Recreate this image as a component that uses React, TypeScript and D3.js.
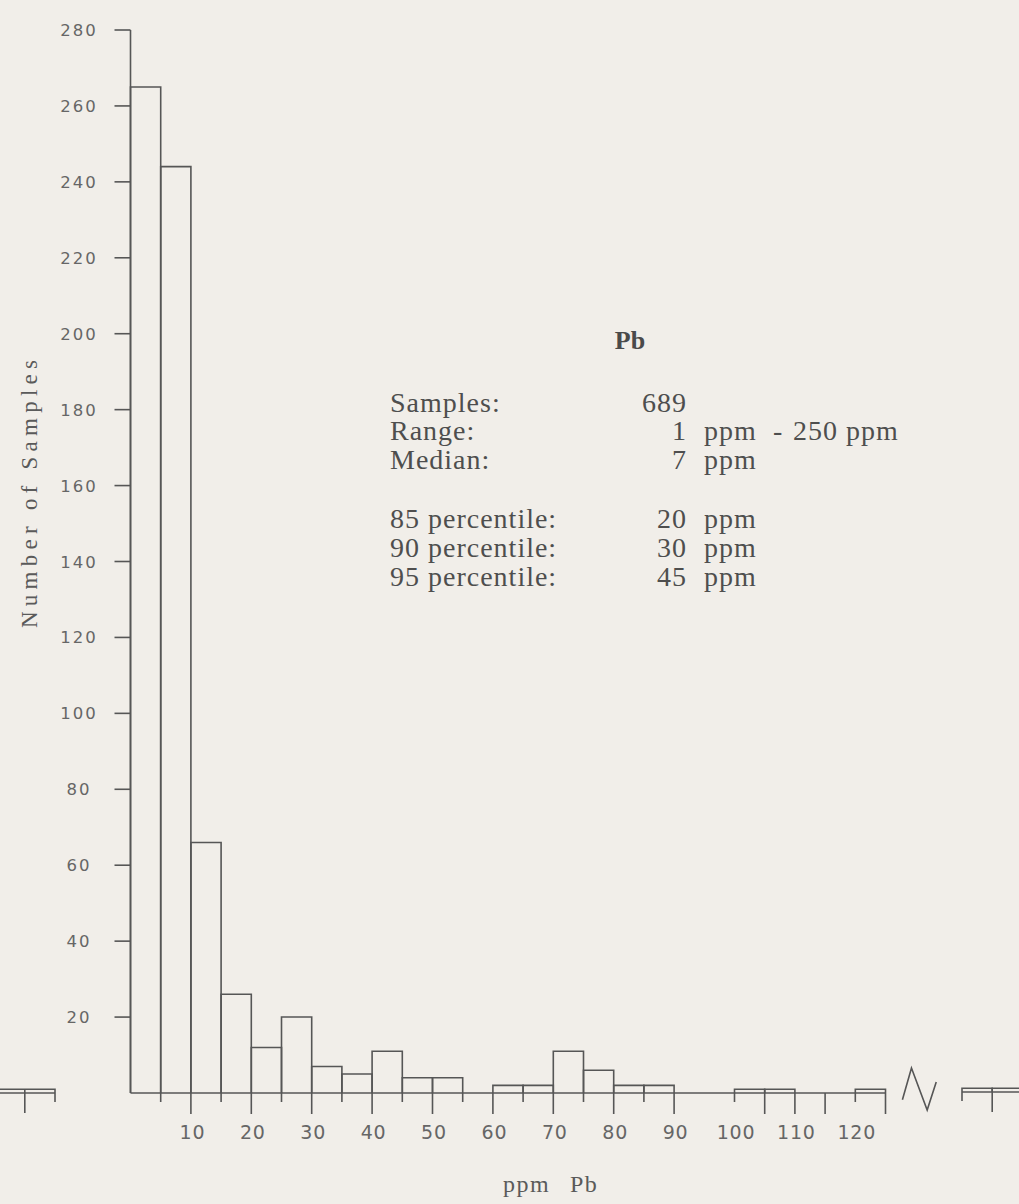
import React from "react";
import * as d3 from "d3";

// ---- data ----
const binStarts = [0, 5, 10, 15, 20, 25, 30, 35, 40, 45, 50, 55, 60, 65, 70, 75, 80, 85, 90, 95, 100, 105, 110, 115, 120];
const binCounts = [265, 244, 66, 26, 12, 20, 7, 5, 11, 4, 4, 0, 2, 2, 11, 6, 2, 2, 0, 0, 1, 1, 0, 0, 1];
const binWidth = 5;

// tail beyond the axis break
const tailStarts = [240, 245];
const tailCounts = [1, 1];

// fragment of a neighbouring chart at the left edge
const fragStarts = [-25];
const fragEnds = [-12.5];
const fragCounts = [1];
const fragTicks = [-17.5];

const yTicks = [20, 40, 60, 80, 100, 120, 140, 160, 180, 200, 220, 240, 260, 280];
const xTicksLong = [10, 20, 30, 40, 50, 60, 70, 80, 90, 105, 110, 115, 125];
const xTicksShort = [5, 15, 25, 35, 45, 55, 65, 75, 85, 100, 120];
const xLabels = [10, 20, 30, 40, 50, 60, 70, 80, 90, 100, 110, 120];
const tailTicksLong = [245];
const tailTicksShort = [240];

// break mark: [ppm, count]
const breakMark: [number, number][] = [[127.8, -1.8], [129.3, 6.6], [131.9, -4.5], [133.4, 2.9]];

const statLabels = ["Samples:", "Range:", "Median:", "85 percentile:", "90 percentile:", "95 percentile:"];
const statValues = ["689", "1", "7", "20", "30", "45"];
const statUnits = ["", "ppm", "ppm", "ppm", "ppm", "ppm"];
const rangeMax = "250 ppm";
const elementName = "Pb";
const yTitle = "Number of Samples";
const xTitleUnit = "ppm";
const xTitleElement = "Pb";

export default function App() {
  const W = 1019;
  const H = 1204;
  const x = d3.scaleLinear().domain([0, 100]).range([130.5, 734.5]);
  const xTail = d3.scaleLinear().domain([240, 250]).range([962, 1022.4]);
  const y = d3.scaleLinear().domain([0, 280]).range([1093, 30]);
  const y0 = y(0);
  const ink = "#565656";
  const sw = 1.6;

  const barPath = (sc: (v: number) => number, a: number, b: number, c: number) =>
    `M${sc(a)},${y0}V${y(c)}H${sc(b)}V${y0}`;

  const rowBase = [411.5, 440, 469, 528, 557, 586];
  const serif = "'Liberation Serif', 'DejaVu Serif', serif";
  const sans = "'DejaVu Sans', sans-serif";

  const line = d3.line<[number, number]>().x(d => x(d[0])).y(d => y(d[1]));

  return (
    <svg width={W} height={H} style={{ position: "absolute", left: 0, top: 0, display: "block" }}>
      <rect x={0} y={0} width={W} height={H} fill="#f1eee9" />

      {/* y axis */}
      <line x1={x(0)} x2={x(0)} y1={y(280)} y2={y0} stroke={ink} strokeWidth={sw} />
      {yTicks.map(t => (
        <g key={"yt" + t}>
          <line x1={x(0) - 16} x2={x(0)} y1={y(t)} y2={y(t)} stroke={ink} strokeWidth={sw} />
          <text x={79} y={y(t) + 6} textAnchor="middle" fontFamily={sans} fontSize={16.5} letterSpacing={2} fill="#666">
            {t}
          </text>
        </g>
      ))}
      <text
        transform={`translate(37,${494}) rotate(-90)`}
        textAnchor="middle"
        fontFamily={serif}
        fontSize={23}
        textLength={268}
        lengthAdjust="spacing"
        fill="#5a5a5a"
      >
        {yTitle}
      </text>

      {/* x baseline */}
      <line x1={x(0)} x2={x(125)} y1={y0} y2={y0} stroke={ink} strokeWidth={sw} />
      <line x1={xTail(240)} x2={W} y1={y0 - 1} y2={y0 - 1} stroke={ink} strokeWidth={sw} />

      {/* bars */}
      {binStarts.map((s, i) =>
        binCounts[i] > 0 ? (
          <path key={"b" + s} d={barPath(x, s, s + binWidth, binCounts[i])} fill="none" stroke={ink} strokeWidth={sw} />
        ) : null
      )}
      {tailStarts.map((s, i) => (
        <path key={"tb" + s} d={barPath(xTail, s, s + binWidth, tailCounts[i])} fill="none" stroke={ink} strokeWidth={sw} transform="translate(0,-1)" />
      ))}

      {/* x ticks */}
      {xTicksLong.map(t => (
        <line key={"xl" + t} x1={x(t)} x2={x(t)} y1={y0} y2={y0 + 21} stroke={ink} strokeWidth={sw} />
      ))}
      {xTicksShort.map(t => (
        <line key={"xs" + t} x1={x(t)} x2={x(t)} y1={y0} y2={y0 + 9} stroke={ink} strokeWidth={sw} />
      ))}
      {tailTicksLong.map(t => (
        <line key={"tl" + t} x1={xTail(t)} x2={xTail(t)} y1={y0 - 1} y2={y0 + 19} stroke={ink} strokeWidth={sw} />
      ))}
      {tailTicksShort.map(t => (
        <line key={"ts" + t} x1={xTail(t)} x2={xTail(t)} y1={y0 - 1} y2={y0 + 8} stroke={ink} strokeWidth={sw} />
      ))}
      {xLabels.map(t => (
        <text key={"xlab" + t} x={x(t) + 1.5} y={1139} textAnchor="middle" fontFamily={sans} fontSize={19} letterSpacing={0.8} fill="#666">
          {t}
        </text>
      ))}
      <text x={503} y={1192} fontFamily={serif} fontSize={24} letterSpacing={1.5} fill="#5a5a5a">
        {xTitleUnit}
      </text>
      <text x={570} y={1192} fontFamily={serif} fontSize={24} letterSpacing={1.5} fill="#5a5a5a">
        {xTitleElement}
      </text>

      {/* axis break */}
      <path d={line(breakMark) || ""} fill="none" stroke={ink} strokeWidth={sw} />

      {/* left-edge fragment */}
      {fragStarts.map((s, i) => (
        <g key={"fr" + s}>
          <line x1={x(s)} x2={x(fragEnds[i])} y1={y0} y2={y0} stroke={ink} strokeWidth={sw} />
          <path d={`M${x(s)},${y(fragCounts[i])}H${x(fragEnds[i])}V${y0 + 9}`} fill="none" stroke={ink} strokeWidth={sw} />
        </g>
      ))}
      {fragTicks.map(t => (
        <line key={"ft" + t} x1={x(t)} x2={x(t)} y1={y(1)} y2={y0 + 20} stroke={ink} strokeWidth={sw} />
      ))}

      {/* statistics block */}
      <text x={630} y={349} textAnchor="middle" fontFamily={serif} fontWeight="bold" fontSize={26} fill="#4a4a4a">
        {elementName}
      </text>
      {statLabels.map((lab, i) => (
        <g key={"st" + i} fontFamily={serif} fontSize={28} fill="#4e4e4e" letterSpacing={1}>
          <text x={390} y={rowBase[i]}>{lab}</text>
          <text x={687} y={rowBase[i]} textAnchor="end">{statValues[i]}</text>
          {statUnits[i] ? <text x={704} y={rowBase[i]}>{statUnits[i]}</text> : null}
          {i === 1 ? (
            <>
              <text x={773} y={rowBase[i]}>-</text>
              <text x={793} y={rowBase[i]}>{rangeMax}</text>
            </>
          ) : null}
        </g>
      ))}
    </svg>
  );
}
